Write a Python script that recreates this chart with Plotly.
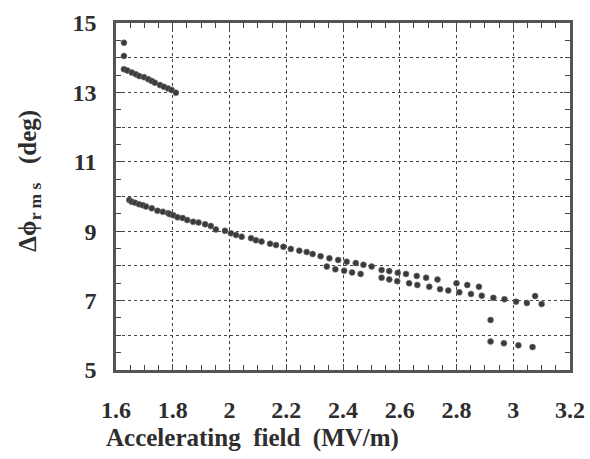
import plotly.graph_objects as go

# Upper group (low field, high phase error)
x_high = [1.628, 1.628, 1.628, 1.640, 1.656, 1.670, 1.682, 1.699, 1.714, 1.726,
          1.737, 1.755, 1.769, 1.784, 1.796, 1.811]
y_high = [14.43, 14.05, 13.67, 13.63, 13.57, 13.52, 13.47, 13.44, 13.38, 13.33,
          13.28, 13.21, 13.16, 13.11, 13.07, 12.99]

# Main series
x_main = [1.647, 1.655, 1.667, 1.681, 1.694, 1.706, 1.726, 1.746, 1.765, 1.784,
          1.790, 1.802, 1.817, 1.835, 1.851, 1.872, 1.891, 1.914, 1.934, 1.952,
          1.984, 2.005, 2.023, 2.043, 2.076, 2.093, 2.113, 2.143, 2.164, 2.190,
          2.216, 2.246, 2.272, 2.293, 2.321, 2.352, 2.383, 2.413, 2.445, 2.472,
          2.501, 2.536, 2.563, 2.593, 2.622, 2.660, 2.693, 2.733, 2.800, 2.838,
          2.879]
y_main = [9.90, 9.85, 9.82, 9.78, 9.75, 9.71, 9.66, 9.59, 9.56, 9.52,
          9.49, 9.46, 9.40, 9.38, 9.32, 9.27, 9.25, 9.20, 9.15, 9.05,
          9.01, 8.94, 8.89, 8.84, 8.80, 8.74, 8.70, 8.64, 8.60, 8.55,
          8.49, 8.44, 8.40, 8.34, 8.28, 8.22, 8.17, 8.12, 8.08, 8.03,
          7.98, 7.88, 7.85, 7.80, 7.77, 7.71, 7.66, 7.61, 7.50, 7.45,
          7.40]

# Lower branch
x_branch = [2.343, 2.373, 2.404, 2.432, 2.462, 2.536, 2.563, 2.591, 2.633, 2.662,
            2.704, 2.742, 2.771, 2.810, 2.851, 2.889, 2.930, 2.969, 3.010, 3.048,
            3.077, 3.100]
y_branch = [7.98, 7.90, 7.86, 7.81, 7.77, 7.66, 7.61, 7.56, 7.50, 7.45,
            7.40, 7.33, 7.29, 7.24, 7.19, 7.14, 7.08, 7.04, 6.97, 6.93,
            7.13, 6.90]

# Isolated points at high field
x_low = [2.920, 2.920, 2.967, 3.018, 3.068]
y_low = [6.44, 5.82, 5.77, 5.71, 5.66]

x_tick_vals = [1.6, 1.8, 2.0, 2.2, 2.4, 2.6, 2.8, 3.0, 3.2]
x_tick_text = ["1.6", "1.8", "2", "2.2", "2.4", "2.6", "2.8", "3", "3.2"]
y_tick_vals = [5, 7, 9, 11, 13, 15]
y_tick_text = ["5", "7", "9", "11", "13", "15"]

FONT = "Liberation Serif"
INK = "#2e2e2e"
marker = dict(size=6, color="#3a3a3a", line=dict(width=0.6, color="#777777"))

fig = go.Figure()
for xs, ys in [(x_high, y_high), (x_main, y_main), (x_branch, y_branch), (x_low, y_low)]:
    fig.add_trace(go.Scatter(x=xs, y=ys, mode="markers", marker=marker,
                             showlegend=False, hoverinfo="skip"))

grid = dict(showgrid=True, gridcolor="#444444", gridwidth=1, griddash="3px,3px")
tickfont = dict(family=FONT, size=24, color=INK, weight="bold")

fig.update_xaxes(
    showline=True, linewidth=2.5, linecolor="#555555", mirror="ticks",
    ticks="inside", ticklen=6, tickwidth=1, tickcolor="#444444",
    zeroline=False, tickfont=tickfont, **grid,
    range=[1.6, 3.2], tickmode="array", tickvals=x_tick_vals, ticktext=x_tick_text,
    minor=dict(dtick=0.05, ticks="inside", ticklen=5, tickcolor="#444444", showgrid=False),
    ticklabelstandoff=16,
)
fig.update_layout(
    yaxis=dict(
        showline=True, linewidth=2.5, linecolor="#555555", mirror="ticks",
        ticks="inside", ticklen=6, tickwidth=1, tickcolor="#444444",
        zeroline=False, tickfont=tickfont, showgrid=False,
        range=[5, 15], tickmode="array", tickvals=y_tick_vals, ticktext=y_tick_text,
        minor=dict(dtick=0.5, ticks="inside", ticklen=5, tickcolor="#444444", showgrid=False),
        ticklabelstandoff=12,
    ),
    yaxis2=dict(
        overlaying="y", side="left", range=[5, 15], dtick=1, tick0=5,
        showticklabels=False, ticks="", zeroline=False, showline=False, **grid,
    ),
)
# invisible trace on yaxis2 so the grid axis is drawn
fig.add_trace(go.Scatter(x=[x_main[0]], y=[y_main[0]], yaxis="y2", mode="markers",
                         marker=dict(size=0.1, opacity=0), showlegend=False,
                         hoverinfo="skip"))

fig.add_annotation(
    text="<b>Accelerating  field  (MV/m)</b>", xref="paper", yref="paper",
    x=0.30, y=-0.196, xanchor="center", yanchor="middle", showarrow=False,
    font=dict(family=FONT, size=25, color=INK),
)
fig.add_annotation(
    text="<b>Δϕ<sub>r m s</sub>   (deg)</b>", xref="paper", yref="paper",
    x=-0.19, y=0.545, xanchor="center", yanchor="middle", textangle=-90,
    showarrow=False, font=dict(family=FONT, size=25, color=INK),
)

fig.update_layout(
    width=590, height=459,
    margin=dict(l=116, r=20, t=23, b=89, autoexpand=False),
    paper_bgcolor="white", plot_bgcolor="white",
)

fig.write_html("out.html")
